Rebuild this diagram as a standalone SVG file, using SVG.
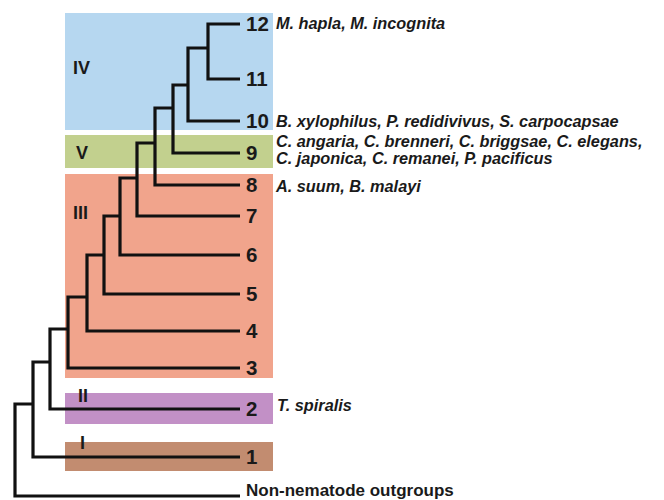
<svg xmlns="http://www.w3.org/2000/svg" width="664" height="500" viewBox="0 0 664 500">
<style>
text{font-family:"Liberation Sans",Arial,sans-serif;font-weight:bold;fill:#1a1a1a}
.num{font-size:20.5px}
.sp{font-size:16.3px;font-style:italic}
.rom{font-size:18px}
.out{font-size:17px}
.tree path{fill:none;stroke:#111;stroke-width:3.2;stroke-linejoin:miter;stroke-linecap:butt}
</style>
<rect width="664" height="500" fill="#fff"/>
<g id="clade-IV"><rect x="65" y="13" width="208" height="117" fill="#b6d7f0"/><text class="rom" x="73" y="74">IV</text></g>
<g id="clade-V"><rect x="65" y="135" width="208" height="33" fill="#c2d08e"/><text class="rom" x="76" y="159">V</text></g>
<g id="clade-III"><rect x="65" y="174" width="208" height="204" fill="#f1a48c"/><text class="rom" x="73" y="219">III</text></g>
<g id="clade-II"><rect x="65" y="393" width="208" height="31" fill="#c290c6"/><text class="rom" x="78" y="402">II</text></g>
<g id="clade-I"><rect x="65" y="442" width="208" height="29" fill="#c28c70"/><text class="rom" x="80" y="449">I</text></g>
<g id="connectors" class="tree">
<path d="M240 24 H208 V79 H240"/>
<path d="M208 48 H188 V121 H240"/>
<path d="M188 85 H173 V153 H240"/>
<path d="M173 108 H155 V185 H240"/>
<path d="M155 143 H137 V216 H240"/>
<path d="M137 178 H120 V255 H240"/>
<path d="M120 216 H104 V294 H240"/>
<path d="M104 255 H87 V331 H240"/>
<path d="M87 297 H68 V368 H240"/>
<path d="M68 329 H50 V409 H240"/>
<path d="M50 362 H33 V457 H240"/>
<path d="M33 404 H15 V496 H240"/>
</g>
<g id="leaf-12"><text class="num" x="246" y="31">12</text><text class="sp" x="276" y="29">M. hapla, M. incognita</text></g>
<g id="leaf-11"><text class="num" x="246" y="86">11</text></g>
<g id="leaf-10"><text class="num" x="246" y="128">10</text><text class="sp" x="276" y="127">B. xylophilus, P. redidivivus, S. carpocapsae</text></g>
<g id="leaf-9"><text class="num" x="246" y="160">9</text><text class="sp" x="276" y="147">C. angaria, C. brenneri, C. briggsae, C. elegans,</text><text class="sp" x="276" y="164">C. japonica, C. remanei, P. pacificus</text></g>
<g id="leaf-8"><text class="num" x="246" y="192">8</text><text class="sp" x="276" y="192">A. suum, B. malayi</text></g>
<g id="leaf-7"><text class="num" x="246" y="223">7</text></g>
<g id="leaf-6"><text class="num" x="246" y="262">6</text></g>
<g id="leaf-5"><text class="num" x="246" y="301">5</text></g>
<g id="leaf-4"><text class="num" x="246" y="338">4</text></g>
<g id="leaf-3"><text class="num" x="246" y="375">3</text></g>
<g id="leaf-2"><text class="num" x="246" y="416">2</text><text class="sp" x="277" y="411">T. spiralis</text></g>
<g id="leaf-1"><text class="num" x="246" y="464">1</text></g>
<g id="outgroup"><text class="out" x="246" y="496">Non-nematode outgroups</text></g>
</svg>
